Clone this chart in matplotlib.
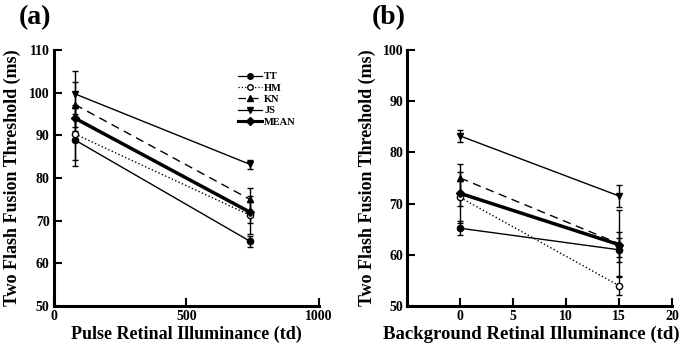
import matplotlib
matplotlib.use("Agg")
import matplotlib.pyplot as plt
from matplotlib.lines import Line2D

plt.rcParams['font.family'] = ['Liberation Serif', 'DejaVu Serif']
plt.rcParams['font.weight'] = 'bold'

names = ["TT", "HM", "KN", "JS", "MEAN"]

# panel (a): pulse retinal illuminance
pulse_x = [80, 740]
pulse_y = {
    "TT": [88.9, 65.2],
    "HM": [90.3, 71.3],
    "KN": [97.2, 75.0],
    "JS": [99.7, 83.2],
    "MEAN": [94.0, 72.0],
}
pulse_err = {
    "TT": [6.0, 1.3],
    "HM": [6.0, 4.5],
    "KN": [5.3, 2.7],
    "JS": [5.3, 1.1],
    "MEAN": [3.0, 2.5],
}

# panel (b): background retinal illuminance
bg_x = [0, 15]
bg_y = {
    "TT": [65.2, 61.0],
    "HM": [71.2, 54.0],
    "KN": [75.0, 62.2],
    "JS": [83.2, 71.5],
    "MEAN": [72.0, 62.0],
}
bg_err = {
    "TT": [1.4, 2.3],
    "HM": [5.0, 1.8],
    "KN": [2.7, 6.5],
    "JS": [1.1, 2.2],
    "MEAN": [2.5, 2.5],
}

styles = {
    "TT": dict(ls='-', lw=1.0, marker='o', mfc='black'),
    "HM": dict(ls=':', lw=1.0, marker='o', mfc='white'),
    "KN": dict(ls=(0, (6, 4)), lw=1.0, marker='^', mfc='black'),
    "JS": dict(ls='-', lw=1.0, marker='v', mfc='black'),
    "MEAN": dict(ls='-', lw=2.5, marker='D', mfc='black'),
}


def style_axes(ax):
    for s in ['top', 'right']:
        ax.spines[s].set_visible(False)
    for s in ['left', 'bottom']:
        ax.spines[s].set_linewidth(2.2)
    ax.tick_params(direction='in', width=1.5, length=6, labelsize=10, pad=3)
    for lab in ax.get_xticklabels() + ax.get_yticklabels():
        lab.set_fontweight('bold')


def draw(ax, x, ydict, edict):
    for n in names:
        st = styles[n]
        ax.errorbar(x, ydict[n], yerr=edict[n], color='black', ls=st['ls'],
                    lw=st['lw'], marker=st['marker'], mfc=st['mfc'], mec='black',
                    ms=4.5, elinewidth=1.0, capsize=2.5)


fig = plt.figure(figsize=(6.8, 3.44), dpi=100)
ax1 = fig.add_axes([0.079, 0.110, 0.390, 0.745])
ax2 = fig.add_axes([0.599, 0.110, 0.389, 0.745])

draw(ax1, pulse_x, pulse_y, pulse_err)
ax1.set_xlim(0, 1000)
ax1.set_ylim(50, 110)
ax1.set_xticks([0, 500, 1000])
ax1.set_yticks(range(50, 111, 10))
ax1.set_xlabel("Pulse Retinal Illuminance (td)", fontsize=13, fontweight='bold', labelpad=2)
ax1.set_ylabel("Two Flash Fusion Threshold (ms)", fontsize=13, fontweight='bold')
ax1.yaxis.set_label_coords(-0.125, 0.5)
style_axes(ax1)

handles = []
for n in names:
    st = styles[n]
    handles.append(Line2D([], [], color='black', ls=st['ls'], lw=st['lw'] * 0.9,
                          marker=st['marker'], mfc=st['mfc'], mec='black', ms=4))
ax1.legend(handles, names, loc='upper left', bbox_to_anchor=(0.68, 0.93), frameon=False,
           prop={'size': 7.5, 'weight': 'bold'}, handlelength=2.3,
           labelspacing=0.2, handletextpad=0.2, borderaxespad=0)

fig.text(0.028, 0.985, "(a)", fontsize=20, fontweight='bold', va='top')

draw(ax2, bg_x, bg_y, bg_err)
ax2.set_xlim(-5, 20)
ax2.set_ylim(50, 100)
ax2.set_xticks([0, 5, 10, 15, 20])
ax2.set_yticks(range(50, 101, 10))
ax2.set_xlabel("Background Retinal Illuminance (td)", fontsize=13.5, fontweight='bold', labelpad=2)
ax2.xaxis.set_label_coords(0.47, -0.075)
ax2.set_ylabel("Two Flash Fusion Threshold (ms)", fontsize=13, fontweight='bold')
ax2.yaxis.set_label_coords(-0.117, 0.5)
style_axes(ax2)
fig.text(0.547, 0.985, "(b)", fontsize=20, fontweight='bold', va='top')

fig.savefig("out.png", dpi=100)
